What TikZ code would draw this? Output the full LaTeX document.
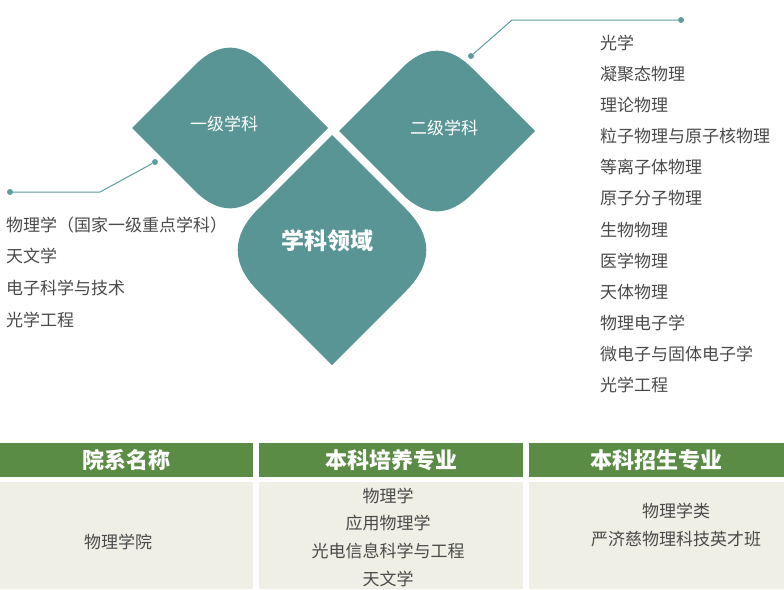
\documentclass[tikz,border=0pt]{standalone}
\usepackage{fontspec}
\setmainfont{Noto Sans CJK SC}
\usetikzlibrary{calc}
\definecolor{teal1}{HTML}{5A9595}
\definecolor{tealline}{HTML}{5E9D9D}
\definecolor{hdr}{HTML}{5B8C45}
\definecolor{cellbg}{HTML}{EFEFE5}
\definecolor{txt}{HTML}{4A4A4A}
\newcommand{\leafpath}[5]{%
 % #1 sharp1, #2 round1, #3 sharp2, #4 round2, #5 fraction
 \fill[teal1] (#1) -- ($(#2)!#5!(#1)$) .. controls ($(#2)!0.12!(#1)$) and ($(#2)!0.12!(#3)$) .. ($(#2)!#5!(#3)$)
  -- (#3) -- ($(#4)!#5!(#3)$) .. controls ($(#4)!0.12!(#3)$) and ($(#4)!0.12!(#1)$) .. ($(#4)!#5!(#1)$) -- cycle;}
\tikzset{
 lst/.style={anchor=west,text=txt,font=\fontsize{17}{17}\selectfont,inner sep=0pt},
 hdrbox/.style={fill=hdr,minimum height=34pt,inner sep=0pt,text=white,font=\fontsize{22}{22}\selectfont\bfseries},
 cell/.style={fill=cellbg,inner sep=0pt},
 ctext/.style={text=txt,font=\fontsize{17}{17}\selectfont,inner sep=0pt},
 dot/.style={circle,fill=tealline,inner sep=0pt,minimum size=6pt},
 conn/.style={draw=tealline,line width=1pt}
}
\begin{document}
\begin{tikzpicture}[x=1pt,y=-1pt]
\useasboundingbox (0,0) rectangle (784,589);
% leaves
\coordinate (aL) at (132,128); \coordinate (aT) at (230,30); \coordinate (aR) at (328,128); \coordinate (aB) at (230,226);
\leafpath{aL}{aT}{aR}{aB}{0.36}
\coordinate (bL) at (339,131); \coordinate (bT) at (437,33); \coordinate (bR) at (535,131); \coordinate (bB) at (437,229);
\leafpath{bL}{bT}{bR}{bB}{0.36}
\coordinate (cT) at (332,135); \coordinate (cR) at (447,250); \coordinate (cB) at (332,365); \coordinate (cL) at (217,250);
\leafpath{cT}{cR}{cB}{cL}{0.36}
\node[text=white,font=\fontsize{17}{17}\selectfont] (n1) at (224,124) {一级学科};
\node[text=white,font=\fontsize{17}{17}\selectfont] (n2) at (444,128) {二级学科};
\node[text=white,font=\fontsize{23}{23}\selectfont\bfseries] (n3) at (327,241) {学科领域};
% connectors
\node[dot] (d1) at (155,162) {}; \coordinate (k1) at (100,192); \node[dot] (d2) at (10,192) {};
\draw[conn] (d1) -- (k1) -- (d2);
\node[dot] (d3) at (471,56) {}; \coordinate (k2) at (512,20); \node[dot] (d4) at (681,20) {};
\draw[conn] (d3) -- (k2) -- (d4);
% left list
\node[lst] (l1) at (6,225) {物理学（国家一级重点学科）};
\node[lst] (l2) at (6,256) {天文学};
\node[lst] (l3) at (6,288) {电子科学与技术};
\node[lst] (l4) at (6,320) {光学工程};
% right list
\foreach \t [count=\i] in {光学,凝聚态物理,理论物理,粒子物理与原子核物理,等离子体物理,原子分子物理,生物物理,医学物理,天体物理,物理电子学,微电子与固体电子学,光学工程}
  \node[lst] (r\i) at (600,{43+31.1*(\i-1)}) {\t};
% table
\node[hdrbox,minimum width=253pt] (h1) at (126.5,460) {院系名称};
\node[hdrbox,minimum width=264pt] (h2) at (391,460) {本科培养专业};
\node[hdrbox,minimum width=255pt] (h3) at (656.5,460) {本科招生专业};
\node[cell,minimum width=253pt,minimum height=107pt] (c1) at (126.5,535.5) {};
\node[cell,minimum width=264pt,minimum height=107pt] (c2) at (391,535.5) {};
\node[cell,minimum width=255pt,minimum height=107pt] (c3) at (656.5,535.5) {};
\node[ctext] (t1) at (118,542) {物理学院};
\node[ctext] (t2) at (388,496) {物理学};
\node[ctext] (t3) at (388,523) {应用物理学};
\node[ctext] (t4) at (388,551) {光电信息科学与工程};
\node[ctext] (t5) at (388,579) {天文学};
\node[ctext] (t6) at (676,511) {物理学类};
\node[ctext] (t7) at (676,539) {严济慈物理科技英才班};
\end{tikzpicture}
\end{document}
